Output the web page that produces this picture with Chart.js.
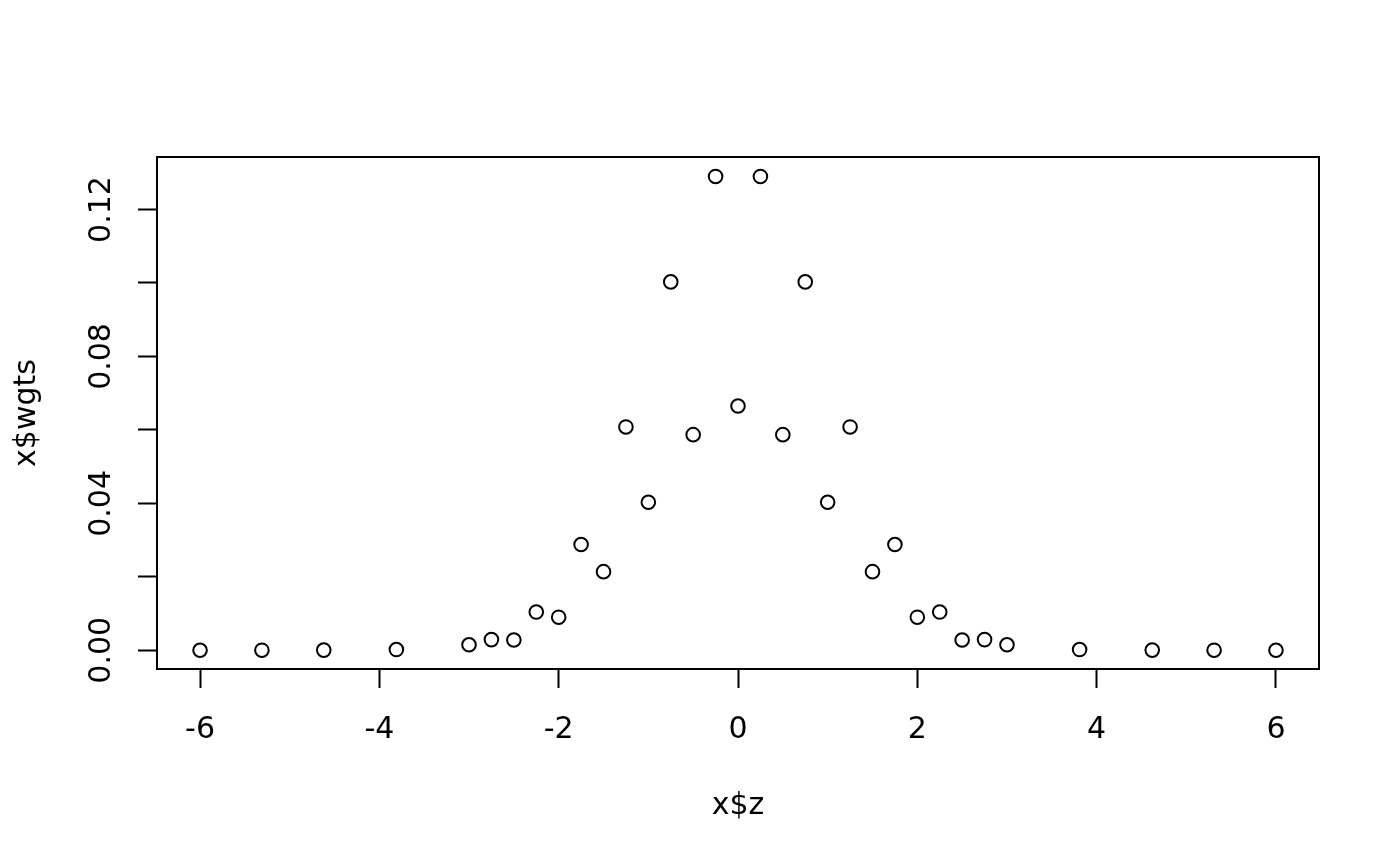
<!DOCTYPE html>
<html>
<head>
<meta charset="utf-8">
<script src="https://cdn.jsdelivr.net/npm/chart.js@4/dist/chart.umd.min.js"></script>
<style>
  html, body { margin: 0; padding: 0; background: #ffffff; }
  #wrap { width: 1400px; height: 866px; }
</style>
</head>
<body>
<div id="wrap"><canvas id="c" width="1400" height="866"></canvas></div>
<script>
// Data
const zValues = [-6, -5.31, -4.62, -3.81, -3, -2.75, -2.5, -2.25, -2, -1.75, -1.5, -1.25, -1, -0.75, -0.5, -0.25, 0,
                 0.25, 0.5, 0.75, 1, 1.25, 1.5, 1.75, 2, 2.25, 2.5, 2.75, 3, 3.81, 4.62, 5.31, 6];
const wgtsValues = [0.00001, 0.00002, 0.00004, 0.0002, 0.0015, 0.0029, 0.0028, 0.0104, 0.0090, 0.0288, 0.0214, 0.0608, 0.0403, 0.1003, 0.0587, 0.1290, 0.0665,
                    0.1290, 0.0587, 0.1003, 0.0403, 0.0608, 0.0214, 0.0288, 0.0090, 0.0104, 0.0028, 0.0029, 0.0015, 0.0002, 0.00004, 0.00002, 0.00001];
const xTicks = [-6, -4, -2, 0, 2, 4, 6];
const yTicks = [0, 0.02, 0.04, 0.06, 0.08, 0.10, 0.12];
const yTickLabels = ['0.00', '', '0.04', '', '0.08', '', '0.12'];
const xTitle = 'x$z';
const yTitle = 'x$wgts';

const FONT = 'DejaVu Sans';

const boxPlugin = {
  id: 'rbox',
  afterDatasetsDraw(chart) {
    const a = chart.chartArea;
    const ctx = chart.ctx;
    ctx.save();
    ctx.strokeStyle = '#000';
    ctx.lineWidth = 2;
    ctx.strokeRect(a.left, a.top, a.right - a.left, a.bottom - a.top);
    ctx.restore();
  }
};

const points = zValues.map((z, i) => ({ x: z, y: wgtsValues[i] }));

new Chart(document.getElementById('c'), {
  type: 'scatter',
  data: {
    datasets: [{
      data: points,
      pointStyle: 'circle',
      pointRadius: 6.8,
      pointHoverRadius: 6.8,
      borderWidth: 2,
      borderColor: '#000',
      backgroundColor: 'rgba(0,0,0,0)'
    }]
  },
  options: {
    responsive: false,
    animation: false,
    events: [],
    layout: { padding: { top: 157, right: 81, left: 0, bottom: 0 } },
    plugins: { legend: { display: false }, tooltip: { enabled: false } },
    scales: {
      x: {
        type: 'linear',
        min: -6.48,
        max: 6.48,
        afterBuildTicks(s) { s.ticks = xTicks.map(v => ({ value: v })); },
        afterFit(s) { s.height = 197; },
        border: { display: false },
        grid: { drawOnChartArea: false, drawTicks: true, tickLength: 19, tickWidth: 2, tickColor: '#000' },
        ticks: {
          color: '#000',
          padding: 24,
          maxRotation: 0,
          minRotation: 0,
          autoSkip: false,
          font: { family: FONT, size: 30 },
          callback: (v) => String(v)
        },
        title: {
          display: true,
          text: xTitle,
          color: '#000',
          font: { family: FONT, size: 30 },
          padding: { top: 0, bottom: 42 }
        }
      },
      y: {
        type: 'linear',
        min: -0.0051,
        max: 0.1343,
        afterBuildTicks(s) { s.ticks = yTicks.map(v => ({ value: v })); },
        afterFit(s) { s.width = 157; },
        border: { display: false },
        grid: { drawOnChartArea: false, drawTicks: true, tickLength: 19, tickWidth: 2, tickColor: '#000' },
        ticks: {
          color: '#000',
          padding: 2,
          minRotation: 90,
          maxRotation: 90,
          crossAlign: 'center',
          autoSkip: false,
          font: { family: FONT, size: 30 },
          callback: (v, i) => yTickLabels[i]
        },
        title: {
          display: true,
          text: yTitle,
          color: '#000',
          font: { family: FONT, size: 30 },
          padding: { top: 9, bottom: 0 }
        }
      }
    }
  },
  plugins: [boxPlugin]
});
</script>
</body>
</html>
